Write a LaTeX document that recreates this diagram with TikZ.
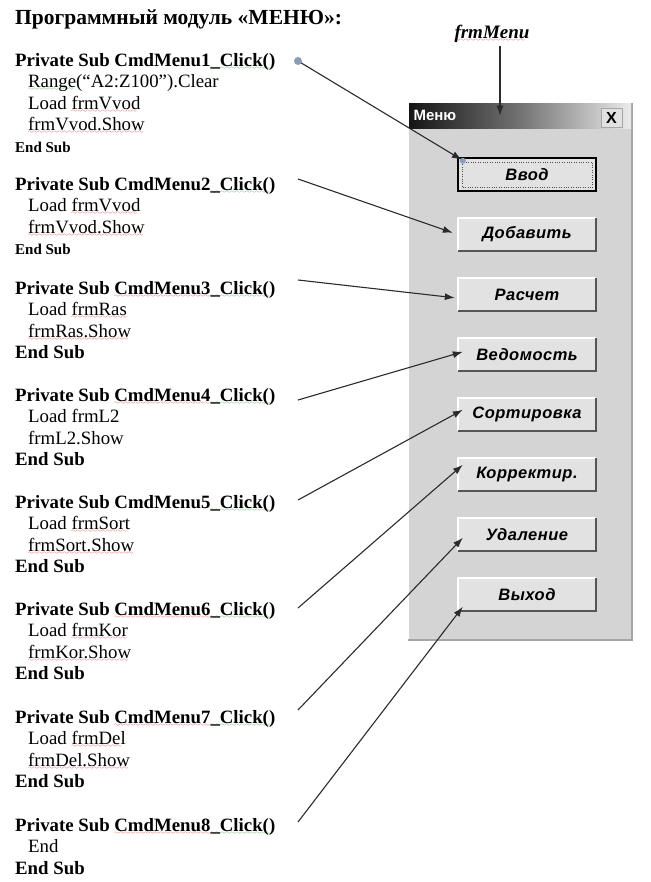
\documentclass[tikz,border=0pt]{standalone}
\usepackage{fontspec}
\setmainfont{Liberation Serif}
\setsansfont{Liberation Sans}
\newfontfamily\btnfont{Liberation Sans}[LetterSpace=3]
\usepackage{xcolor}
\usepackage{tikz}
\usetikzlibrary{positioning, arrows.meta, calc}
\definecolor{winFace}{HTML}{D4D4D4}
\definecolor{btnFace}{HTML}{E2E2E2}
\definecolor{btnShade}{HTML}{555555}
\definecolor{lineInk}{HTML}{2B2B2B}
\definecolor{dotBlue}{HTML}{8A9CB8}
\definecolor{spellRed}{HTML}{E03030}
\definecolor{spellGreen}{HTML}{3A9A3A}
\font\wavefont=lasy6
\newbox\wavebox
% spell-check squiggles
\newcommand\squig[2]{\setbox\wavebox\hbox{#2}\rlap{\lower3pt\hbox to\wd\wavebox{\color{#1}\leaders\hbox{\wavefont\char58}\hfill}}\box\wavebox}
\newcommand\rw[1]{\squig{spellRed}{#1}}
\newcommand\gw[1]{\squig{spellGreen}{#1}}
\newcommand\ind{\hspace*{13pt}}
\tikzset{
  code/.style={anchor=north west, align=left, inner sep=0pt,
    font=\fontsize{18.8}{21.5}\selectfont},
  btn/.style={fill=btnFace, minimum width=138, minimum height=33, inner sep=0pt,
    font=\btnfont\fontsize{16.5}{18}\selectfont\bfseries\itshape},
  conn/.style={draw=lineInk, line width=1.1pt, -{Latex[length=10pt,width=7pt]}},
}

\begin{document}
\begin{tikzpicture}[x=1pt, y=-1pt]
  \useasboundingbox (0,0) rectangle (650,882);
  \node[anchor=base west, inner sep=0pt, font=\fontsize{21.5}{24}\selectfont\bfseries] (title) at (15,25)
    {Программный модуль «МЕНЮ»:};

  % code blocks
  \node[code] (b1) at (15,53) {\textbf{Private Sub CmdMenu1\gw{\_Click()}}\\
    \ind\gw{Range}(“A2:Z100”).Clear\\
    \ind Load \rw{frmVvod}\\
    \ind\rw{frmVvod.Show}\\
    {\fontsize{15}{16}\selectfont\bfseries End Sub}};
  \node[code] (b2) at (15,177) {\textbf{Private Sub CmdMenu2\gw{\_Click()}}\\
    \ind Load \rw{frmVvod}\\
    \ind\rw{frmVvod.Show}\\
    {\fontsize{15}{16}\selectfont\bfseries End Sub}};
  \node[code] (b3) at (15,281) {\textbf{Private Sub \rw{CmdMenu3}\gw{\_Click()}}\\
    \ind Load \rw{frmRas}\\
    \ind\rw{frmRas.Show}\\
    \textbf{End Sub}};
  \node[code] (b4) at (15,388) {\textbf{Private Sub \rw{CmdMenu4}\gw{\_Click()}}\\
    \ind Load frmL2\\
    \ind frmL2.Show\\
    \textbf{End Sub}};
  \node[code] (b5) at (15,495) {\textbf{Private Sub CmdMenu5\gw{\_Click()}}\\
    \ind Load \rw{frmSort}\\
    \ind\rw{frmSort.Show}\\
    \textbf{End Sub}};
  \node[code] (b6) at (15,602) {\textbf{Private Sub \rw{CmdMenu6}\gw{\_Click()}}\\
    \ind Load \rw{frmKor}\\
    \ind\rw{frmKor.Show}\\
    \textbf{End Sub}};
  \node[code] (b7) at (15,710) {\textbf{Private Sub \rw{CmdMenu7}\gw{\_Click()}}\\
    \ind Load \rw{frmDel}\\
    \ind\rw{frmDel.Show}\\
    \textbf{End Sub}};
  \node[code] (b8) at (15,818) {\textbf{Private Sub \rw{CmdMenu8}\gw{\_Click()}}\\
    \ind End\\
    \textbf{End Sub}};

  % the form window
  \fill[winFace] (408,103) rectangle (632,640);
  \draw[white, line width=1.5pt] (408,640) -- (408,103) -- (632,103);
  \draw[gray!70, line width=1.5pt] (408,640) -- (632,640) -- (632,103);
  \node[anchor=north west, minimum width=222, minimum height=25, inner sep=0pt,
    left color=black!92, right color=black!8, middle color=black!55] (bar) at (409,103) {};
  \node[anchor=west, text=white, font=\sffamily\fontsize{15}{17}\selectfont\bfseries] (cap)
    at ([xshift=1pt]bar.west) {Меню};
  \node[fill=btnFace, draw=gray!70, minimum width=21, minimum height=19, inner sep=0pt,
    font=\sffamily\fontsize{16}{17}\selectfont\bfseries] (close) at (611.5,117.5) {X};

  \foreach \t [count=\i] in {Ввод,Добавить,Расчет,Ведомость,Сортировка,Корректир.,Удаление,Выход} {
    \node[btn] (m\i) at (527,{174.5+60*(\i-1)}) {\t};
    \draw[white, line width=1.5pt] (m\i.south west) -- (m\i.north west) -- (m\i.north east);
    \draw[btnShade, line width=2pt] (m\i.north east) -- (m\i.south east) -- (m\i.south west);
  }
  \draw[line width=2pt] (m1.north west) rectangle (m1.south east);
  \draw[dotted, gray!60!black] ([shift={(4,4)}]m1.north west) rectangle ([shift={(-4,-4)}]m1.south east);

  % frmMenu label
  \node[font=\fontsize{19}{21}\selectfont\bfseries\itshape] (frm) at (492,34) {\rw{frmMenu}};
  \coordinate (frmtop) at ([xshift=8pt]frm.south);
  \draw[conn] (frmtop) -- (frmtop |- bar.center);

  % connectors
  \foreach \i/\y in {1/61,2/179,3/280,4/400,5/500,6/608,7/710,8/822}
    \coordinate (s\i) at (298,\y);
  \draw[conn] (s1) -- ([shift={(4,2)}]m1.north west);
  \fill[dotBlue] (s1) circle (4);
  \fill[dotBlue] ([shift={(5,3)}]m1.north west) circle (3);
  \foreach \i/\dx/\dy in {2/-5/15, 3/-3/20, 4/5/14, 5/5/12, 6/5/7, 7/5/20, 8/5/29}
    \draw[conn] (s\i) -- ([shift={(\dx,\dy)}]m\i.north west);
\end{tikzpicture}
\end{document}
